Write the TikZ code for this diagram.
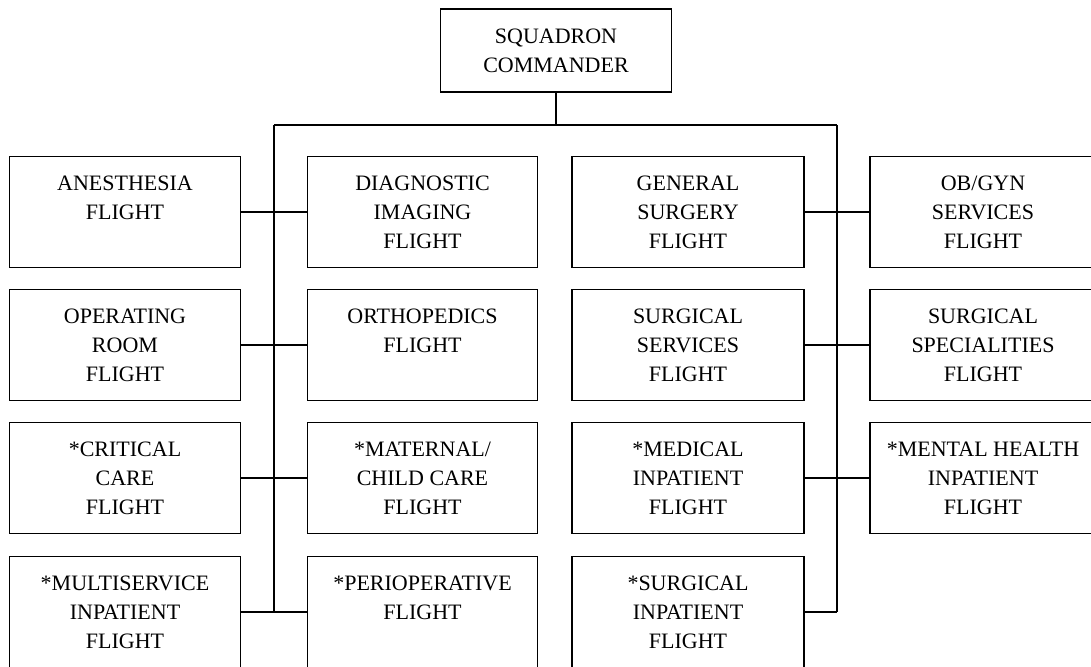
\documentclass[tikz,border=0pt]{standalone}
\usepackage{fontspec}
\setmainfont{Liberation Serif}
\begin{document}
\begin{tikzpicture}[x=1pt,y=-1pt,
  orgbox/.style={draw=black, line width=1.4pt, fill=white, inner sep=0pt,
    align=center, font=\fontsize{22}{29}\selectfont, text=black,
    minimum height=111pt},
  w1/.style={minimum width=231pt},
  w2/.style={minimum width=230pt},
  w3/.style={minimum width=232pt},
  w4/.style={minimum width=226pt},
  link/.style={draw=black, line width=1.4pt}]
\useasboundingbox (0,0) rectangle (1091,666);
\fill[white] (0,0) rectangle (1091,666);
% top
\node[orgbox, minimum width=231pt, minimum height=83pt] (top) at (556,50.5) {SQUADRON\\COMMANDER};
% column 1
\node[orgbox,w1] (a1) at (125,212) {ANESTHESIA\\FLIGHT\\\mbox{}};
\node[orgbox,w1] (a2) at (125,345) {OPERATING\\ROOM\\FLIGHT};
\node[orgbox,w1] (a3) at (125,478) {*CRITICAL\\CARE\\FLIGHT};
\node[orgbox,w1] (a4) at (125,612) {*MULTISERVICE\\INPATIENT\\FLIGHT};
% column 2
\node[orgbox,w2] (b1) at (422.5,212) {DIAGNOSTIC\\IMAGING\\FLIGHT};
\node[orgbox,w2] (b2) at (422.5,345) {ORTHOPEDICS\\FLIGHT\\\mbox{}};
\node[orgbox,w2] (b3) at (422.5,478) {*MATERNAL/\\CHILD CARE\\FLIGHT};
\node[orgbox,w2] (b4) at (422.5,612) {*PERIOPERATIVE\\FLIGHT\\\mbox{}};
% column 3
\node[orgbox,w3] (c1) at (688,212) {GENERAL\\SURGERY\\FLIGHT};
\node[orgbox,w3] (c2) at (688,345) {SURGICAL\\SERVICES\\FLIGHT};
\node[orgbox,w3] (c3) at (688,478) {*MEDICAL\\INPATIENT\\FLIGHT};
\node[orgbox,w3] (c4) at (688,612) {*SURGICAL\\INPATIENT\\FLIGHT};
% column 4
\node[orgbox,w4] (d1) at (983,212) {OB/GYN\\SERVICES\\FLIGHT};
\node[orgbox,w4] (d2) at (983,345) {SURGICAL\\SPECIALITIES\\FLIGHT};
\node[orgbox,w4] (d3) at (983,478) {*MENTAL HEALTH\\INPATIENT\\FLIGHT};
% trunk coordinates
\coordinate (bar) at (top.south |- 0,125);
\coordinate (bl) at (274,125);
\coordinate (br) at (837,125);
\coordinate (lb) at (274,612);
\coordinate (rb) at (837,612);
\draw[link] (top.south) -- (bar);
\draw[link] (bl) -- (br);
\draw[link] (bl) -- (lb);
\draw[link] (br) -- (rb);
\draw[link] (a1.east) -- (b1.west);
\draw[link] (a2.east) -- (b2.west);
\draw[link] (a3.east) -- (b3.west);
\draw[link] (a4.east) -- (b4.west);
\draw[link] (c1.east) -- (d1.west);
\draw[link] (c2.east) -- (d2.west);
\draw[link] (c3.east) -- (d3.west);
\draw[link] (c4.east) -- (rb);
\end{tikzpicture}
\end{document}
